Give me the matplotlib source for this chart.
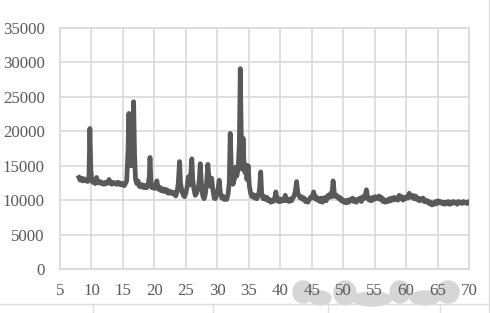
import matplotlib
matplotlib.use("Agg")
import matplotlib.pyplot as plt
from matplotlib.lines import Line2D
from matplotlib.patches import Ellipse

# 2-theta (deg) and intensity (counts)
two_theta = [
    8.0, 8.2, 8.4, 8.6, 8.8, 9.0, 9.2, 9.4, 9.6, 9.75,
    9.9, 10.05, 10.2, 10.4, 10.6, 10.8, 11.0, 11.2, 11.4, 11.6,
    11.8, 12.0, 12.2, 12.4, 12.6, 12.8, 13.0, 13.2, 13.4, 13.6,
    13.8, 14.0, 14.2, 14.4, 14.6, 14.8, 15.0, 15.2, 15.4, 15.6,
    15.8, 15.95, 16.1, 16.3, 16.5, 16.7, 16.85, 17.0, 17.2, 17.4,
    17.6, 17.8, 18.0, 18.2, 18.4, 18.6, 18.8, 19.0, 19.2, 19.3,
    19.45, 19.6, 19.8, 20.0, 20.2, 20.4, 20.6, 20.8, 21.0, 21.2,
    21.4, 21.6, 21.8, 22.0, 22.2, 22.4, 22.6, 22.8, 23.0, 23.2,
    23.4, 23.6, 23.8, 24.0, 24.15, 24.4, 24.6, 24.8, 25.0, 25.2,
    25.4, 25.6, 25.8, 25.95, 26.1, 26.3, 26.5, 26.7, 26.9, 27.1,
    27.3, 27.5, 27.7, 27.9, 28.1, 28.3, 28.5, 28.7, 28.9, 29.1,
    29.3, 29.5, 29.7, 29.9, 30.1, 30.3, 30.5, 30.7, 30.9, 31.1,
    31.3, 31.5, 31.7, 31.9, 32.05, 32.25, 32.5, 32.7, 32.9, 33.1,
    33.3, 33.5, 33.65, 33.8, 33.95, 34.1, 34.25, 34.4, 34.55, 34.7,
    34.9, 35.1, 35.3, 35.5, 35.7, 35.9, 36.1, 36.3, 36.5, 36.7,
    36.9, 37.05, 37.3, 37.5, 37.7, 37.9, 38.1, 38.3, 38.5, 38.7,
    38.9, 39.1, 39.3, 39.5, 39.7, 39.9, 40.1, 40.3, 40.5, 40.8,
    41.0, 41.2, 41.4, 41.6, 41.8, 42.0, 42.2, 42.4, 42.6, 42.8,
    43.0, 43.2, 43.4, 43.6, 43.8, 44.0, 44.2, 44.4, 44.6, 44.8,
    45.0, 45.3, 45.5, 45.7, 45.9, 46.1, 46.3, 46.5, 46.7, 46.9,
    47.1, 47.3, 47.6, 47.8, 48.0, 48.2, 48.4, 48.6, 48.8, 49.0,
    49.3, 49.5, 49.7, 49.9, 50.1, 50.3, 50.5, 50.7, 50.9, 51.1,
    51.3, 51.5, 51.7, 51.9, 52.1, 52.3, 52.5, 52.7, 52.9, 53.1,
    53.3, 53.5, 53.7, 53.9, 54.1, 54.3, 54.5, 54.7, 54.9, 55.1,
    55.3, 55.5, 55.7, 55.9, 56.1, 56.3, 56.5, 56.7, 56.9, 57.1,
    57.3, 57.5, 57.7, 57.9, 58.1, 58.3, 58.5, 58.7, 58.9, 59.1,
    59.3, 59.5, 59.7, 59.9, 60.1, 60.3, 60.5, 60.7, 60.9, 61.1,
    61.3, 61.5, 61.7, 61.9, 62.1, 62.3, 62.5, 62.7, 62.9, 63.1,
    63.3, 63.5, 63.7, 63.9, 64.1, 64.3, 64.5, 64.7, 64.9, 65.1,
    65.3, 65.5, 65.7, 65.9, 66.1, 66.3, 66.5, 66.7, 66.9, 67.1,
    67.3, 67.5, 67.7, 67.9, 68.1, 68.3, 68.5, 68.7, 68.9, 69.1,
    69.3, 69.5, 69.7, 69.9,
]
intensity = [
    13300, 12900, 13200, 12800, 13100, 12800, 12900, 12700, 13500, 20400,
    14500, 12800, 12600, 12700, 12400, 13300, 12600, 12500, 12700, 12400,
    12500, 12300, 12600, 12400, 12500, 13000, 12500, 12300, 12600, 12400,
    12500, 12300, 12600, 12300, 12500, 12200, 12400, 12100, 12400, 12800,
    17000, 22600, 16000, 15000, 15500, 24300, 16500, 13000, 12400, 12800,
    12000, 12300, 11900, 12200, 11800, 12100, 11800, 12300, 13500, 16200,
    12800, 11800, 12100, 11700, 12000, 12800, 11600, 11900, 11400, 11700,
    11300, 11600, 11200, 11500, 11000, 11300, 11000, 11200, 10900, 11100,
    10600, 11200, 12500, 15600, 12500, 11200, 10700, 10500, 11000, 12000,
    13400, 12200, 14000, 16000, 13000, 11500, 10700, 11000, 11500, 12500,
    15300, 12000, 10600, 10200, 10900, 12500, 15200, 13000, 12000, 13200,
    11500, 10300, 10200, 10800, 11500, 12900, 11000, 10300, 10600, 10100,
    10400, 10100, 10800, 12500, 19700, 14000, 12300, 13000, 14800, 13500,
    14500, 18000, 29100, 20000, 14500, 19000, 15000, 14000, 15100, 13000,
    15000, 12000, 11000, 10500, 10800, 10300, 10700, 10200, 10600, 11500,
    14100, 11000, 10200, 10500, 10100, 10400, 9900, 10100, 9700, 10000,
    9800, 10200, 11200, 10000, 9800, 10200, 9800, 10100, 9900, 10700,
    9900, 10100, 9800, 10200, 9900, 10300, 10600, 11300, 12700, 11000,
    10600, 10300, 10500, 10100, 10300, 9800, 10000, 9700, 10100, 10400,
    10300, 11200, 10200, 10500, 10000, 10200, 9800, 10300, 9700, 10000,
    10400, 9900, 10700, 10400, 11000, 10500, 12800, 11000, 10500, 10700,
    10200, 10400, 9900, 10100, 9700, 9900, 9600, 10000, 9700, 10100,
    10000, 10300, 9800, 10100, 9700, 10000, 10200, 10300, 9800, 10500,
    10200, 10700, 11500, 10400, 10000, 10300, 9900, 10400, 10100, 10500,
    10300, 10200, 10600, 10100, 10400, 9800, 10100, 9700, 10000, 9800,
    10200, 9900, 10300, 10000, 10400, 10100, 10300, 10000, 10700, 10300,
    10500, 10000, 10400, 10200, 10500, 10300, 11000, 10500, 10400, 10700,
    10200, 10600, 10100, 10300, 9900, 10200, 10000, 10300, 9800, 10000,
    9700, 9900, 9500, 9700, 9300, 9600, 9400, 9800, 9500, 9900,
    9600, 9800, 9500, 9700, 9400, 9700, 9500, 9800, 9400, 9700,
    9500, 9800, 9600, 9700, 9400, 9800, 9600, 9700, 9500, 9800,
    9600, 9700, 9500, 9700,
]
assert len(two_theta) == len(intensity)

x_ticks = list(range(5, 75, 5))
y_ticks = list(range(0, 40000, 5000))

GRID = "#d9d9d9"
TEXT = "#595959"

plt.rcParams.update(
    {
        "font.family": ["Liberation Serif", "DejaVu Serif"],
        "font.size": 12.4,
    }
)

fig = plt.figure(figsize=(4.9, 3.13), dpi=100)
ax = fig.add_axes([60 / 490, 1 - 269 / 313, 409 / 490, 241 / 313])

ax.plot(two_theta, intensity, color="#595959", linewidth=3.4,
        solid_joinstyle="round", zorder=3)

ax.set_xlim(5, 70)
ax.set_ylim(0, 35000)
ax.set_xticks(x_ticks)
ax.set_yticks(y_ticks)
ax.grid(True, color=GRID, linewidth=1.2)
ax.set_axisbelow(True)
for side in ax.spines.values():
    side.set_color(GRID)
    side.set_linewidth(1.2)
ax.tick_params(length=0, colors=TEXT, labelsize=12.2)
ax.tick_params(axis="y", pad=11)
ax.tick_params(axis="x", pad=10)

# spreadsheet cell borders around the chart
fig.add_artist(Line2D([0, 489 / 490], [1 - 304 / 313] * 2,
                      transform=fig.transFigure, color="#dcdcdc", lw=1.0))
for px in [93, 213, 328, 440]:
    fig.add_artist(Line2D([px / 490] * 2, [0, 1 - 304 / 313],
                          transform=fig.transFigure, color="#dcdcdc", lw=1.0))
fig.add_artist(Line2D([488.5 / 490] * 2, [0, 1],
                      transform=fig.transFigure, color="#dcdcdc", lw=1.0))

# smudge under the right-hand tick labels
for cx, cy, w, h in [(303, 292, 20, 22), (320, 298, 22, 14), (345, 293, 22, 24),
                     (372, 299, 40, 14), (400, 292, 20, 22), (425, 298, 30, 14),
                     (448, 292, 22, 22)]:
    fig.add_artist(Ellipse((cx / 490, 1 - cy / 313), w / 490, h / 313,
                           transform=fig.transFigure, color="#d6d6d6",
                           zorder=-1))

fig.savefig("out.png", dpi=100)
